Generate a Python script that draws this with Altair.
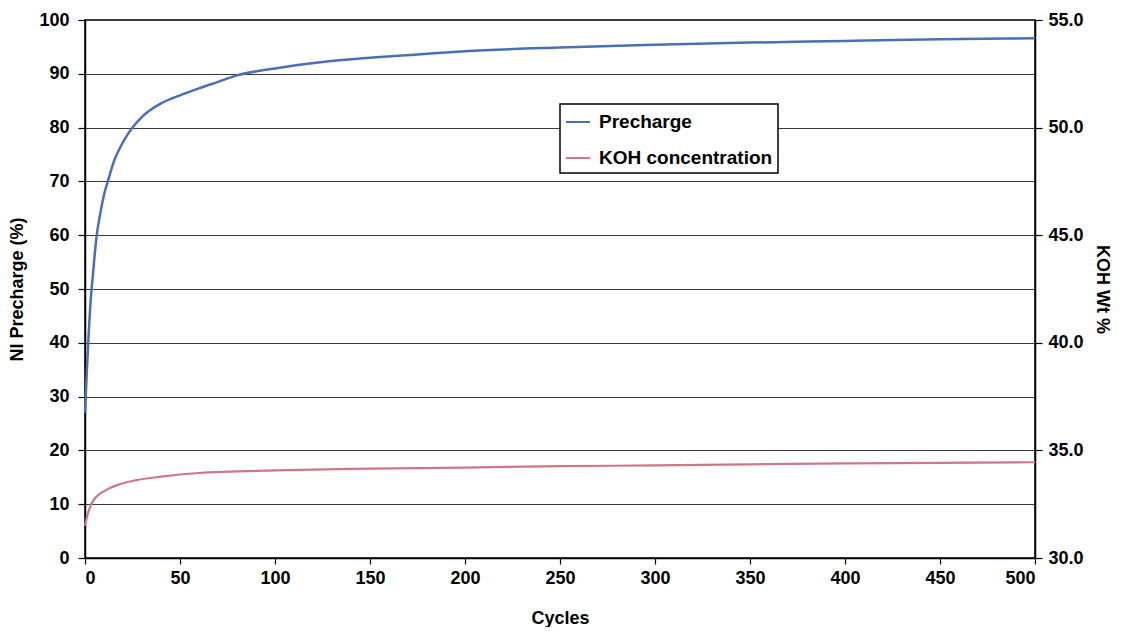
import altair as alt
import pandas as pd

# Precharge (left axis, %)
cycles_pre = [0, 1, 2, 3, 4, 5, 6, 8, 10, 12, 15, 20, 25, 30, 40, 50, 60, 70, 80,
              100, 125, 150, 175, 200, 250, 300, 350, 400, 450, 500]
precharge = [27, 35, 42, 48, 52, 56, 59.5, 64, 67.5, 70, 73.5, 77.3, 80, 82, 84.5, 86,
             87.3, 88.5, 89.7, 91, 92.2, 93, 93.6, 94.2, 94.9, 95.4, 95.8, 96.1, 96.4, 96.6]

# KOH concentration (right axis, wt %)
cycles_koh = [0, 1, 2, 3, 5, 8, 12, 18, 25, 40, 60, 100, 150, 200, 250, 300, 350, 400, 450, 500]
koh = [31.5, 31.9, 32.2, 32.45, 32.75, 33.0, 33.2, 33.42, 33.58, 33.78, 33.95, 34.07,
       34.15, 34.2, 34.27, 34.3, 34.35, 34.4, 34.42, 34.45]

series_names = ["Precharge", "KOH concentration"]
series_colors = ["#4a6fb5", "#cc7886"]

x_ticks = [0, 50, 100, 150, 200, 250, 300, 350, 400, 450, 500]
left_ticks = [0, 10, 20, 30, 40, 50, 60, 70, 80, 90, 100]
right_ticks = [30, 35, 40, 45, 50, 55]

df_pre = pd.DataFrame({"cycles": cycles_pre, "value": precharge, "series": series_names[0]})
df_koh = pd.DataFrame({"cycles": cycles_koh, "value": koh, "series": series_names[1]})

FONT = "Liberation Sans"

color = alt.Color(
    "series:N",
    scale=alt.Scale(domain=series_names, range=series_colors),
    legend=alt.Legend(
        title=None,
        orient="none",
        legendX=475,
        legendY=84,
        symbolType="stroke",
        symbolSize=576,
        symbolStrokeWidth=2,
        labelFont=FONT,
        labelFontSize=19,
        labelFontWeight="bold",
        labelColor="black",
        labelOffset=8,
        labelLimit=300,
        rowPadding=13,
        padding=5,
        strokeColor="black",
        fillColor="white",
    ),
)

x_enc = alt.X(
    "cycles:Q",
    scale=alt.Scale(domain=[0, 500], nice=False, zero=True),
    axis=alt.Axis(
        title="Cycles",
        values=x_ticks,
        grid=False,
        tickSize=6,
        labelPadding=5,
        titlePadding=22,
    ),
)

pre = alt.Chart(df_pre).mark_line(strokeWidth=2.5, interpolate="monotone").encode(
    x=x_enc,
    y=alt.Y(
        "value:Q",
        scale=alt.Scale(domain=[0, 100], nice=False),
        axis=alt.Axis(
            title="NI Precharge (%)",
            values=left_ticks,
            orient="left",
            grid=True,
            gridColor="#3a3a3a",
            gridWidth=1,
            tickSize=7,
            labelPadding=9,
            titlePadding=12,
        ),
    ),
    color=color,
)

koh_line = alt.Chart(df_koh).mark_line(strokeWidth=2.2, interpolate="monotone").encode(
    x=x_enc,
    y=alt.Y(
        "value:Q",
        scale=alt.Scale(domain=[30, 55], nice=False, zero=False),
        axis=alt.Axis(
            title="KOH Wt %",
            values=right_ticks,
            format=".1f",
            orient="right",
            grid=False,
            tickSize=7,
            labelPadding=6,
            titlePadding=9,
        ),
    ),
    color=color,
)

chart = (
    alt.layer(pre, koh_line)
    .resolve_scale(y="independent")
    .properties(
        width=950,
        height=538,
        background="white",
        padding={"left": 0, "top": 3, "right": 0, "bottom": 0},
    )
    .configure_view(stroke="black", strokeWidth=1.5)
    .configure_legend(strokeWidth=1.5)
    .configure_axis(
        domainColor="black",
        domainWidth=1.5,
        tickColor="black",
        tickWidth=1.2,
        labelFont=FONT,
        labelFontSize=18,
        labelFontWeight="bold",
        labelColor="black",
        titleFont=FONT,
        titleFontSize=18,
        titleFontWeight="bold",
        titleColor="black",
    )
)

chart.save("out.html", embed_options={"renderer": "svg", "actions": False})
